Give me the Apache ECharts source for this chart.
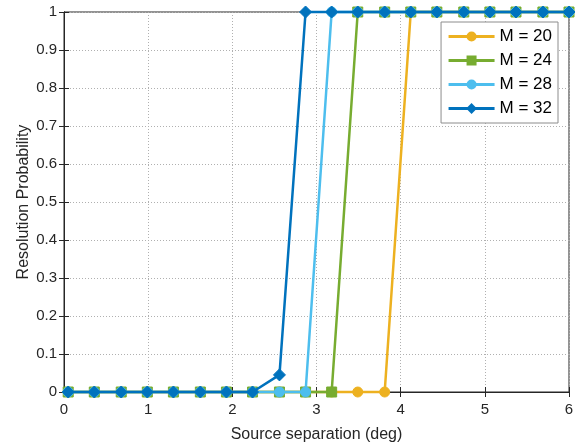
<!DOCTYPE html>
<html><head><meta charset="utf-8">
<script src="https://cdn.jsdelivr.net/npm/echarts@6/dist/echarts.min.js"></script>
<style>html,body{margin:0;padding:0;background:#fff}#c{width:585px;height:447px}</style>
</head><body><div id="c"></div>
<script>
var separation = [0.05, 0.36, 0.68, 0.99, 1.30, 1.62, 1.93, 2.24, 2.56, 2.87, 3.18, 3.49, 3.81, 4.12, 4.43, 4.75, 5.06, 5.37, 5.69, 6.00];
var probM20 = [0,0,0,0,0,0,0,0,0,0,0,0,0,1,1,1,1,1,1,1];
var probM24 = [0,0,0,0,0,0,0,0,0,0,0,1,1,1,1,1,1,1,1,1];
var probM28 = [0,0,0,0,0,0,0,0,0,0,1,1,1,1,1,1,1,1,1,1];
var probM32 = [0,0,0,0,0,0,0,0,0.045,1,1,1,1,1,1,1,1,1,1,1];
var seriesNames = ['M = 20','M = 24','M = 28','M = 32'];
var colors = ['#EDB120','#77AC30','#4DBEEE','#0072BD'];
var symbols = ['circle','rect','circle','diamond'];
var symbolSizes = [10,10,10,12];
var allProb = [probM20, probM24, probM28, probM32];

function pairs(ys){ return separation.map(function(x,i){ return [x, ys[i]]; }); }

var font = 'Liberation Sans, Arial, Helvetica, sans-serif';
var axisColor = '#262626';
var chart = echarts.init(document.getElementById('c'), null, {renderer:'canvas'});
var gridLine = {show:true, lineStyle:{color:'#b0b0b0', type:[1,2], width:1}};
chart.setOption({
  animation:false,
  grid:{left:64, right:16, top:12, bottom:55, show:true, borderColor:axisColor, borderWidth:1,
        containLabel:false, outerBoundsMode:'none'},
  legend:{
    right:27, top:22, orient:'vertical', backgroundColor:'#fff', borderColor:'#8c8c8c', borderWidth:1,
    padding:[6,6,6,6], itemGap:7, itemWidth:46, itemHeight:10,
    textStyle:{fontFamily:font, fontSize:17, color:'#000'},
    lineStyle:{width:3},
    data: seriesNames
  },
  xAxis:[{
    type:'value', min:0, max:6, interval:1,
    name:'Source separation (deg)', nameLocation:'middle', nameGap:35,
    nameTextStyle:{fontFamily:font, fontSize:16, color:axisColor},
    axisLine:{show:true, onZero:false, lineStyle:{color:axisColor}},
    axisTick:{show:true, inside:true, length:5, lineStyle:{color:axisColor}},
    axisLabel:{fontFamily:font, fontSize:15, color:axisColor, margin:10},
    splitLine:gridLine
  },{
    type:'value', position:'top', min:0, max:6, interval:1,
    axisLine:{show:true, lineStyle:{color:axisColor}},
    axisTick:{show:true, inside:true, length:5, lineStyle:{color:axisColor}},
    axisLabel:{show:false}, splitLine:{show:false}
  }],
  yAxis:[{
    type:'value', min:0, max:1, interval:0.1,
    name:'Resolution Probability', nameLocation:'middle', nameGap:32, nameMoveOverlap:false,
    nameTextStyle:{fontFamily:font, fontSize:16, color:axisColor},
    axisLine:{show:true, onZero:false, lineStyle:{color:axisColor}},
    axisTick:{show:true, inside:true, length:5, lineStyle:{color:axisColor}},
    axisLabel:{fontFamily:font, fontSize:15, color:axisColor, margin:7,
      formatter:function(v){ return String(Math.round(v*10)/10); }},
    splitLine:gridLine
  },{
    type:'value', position:'right', min:0, max:1, interval:0.1,
    axisLine:{show:true, lineStyle:{color:axisColor}},
    axisTick:{show:true, inside:true, length:5, lineStyle:{color:axisColor}},
    axisLabel:{show:false}, splitLine:{show:false}
  }],
  series: allProb.map(function(p,k){
    return {
      name:seriesNames[k], type:'line', data:pairs(p),
      symbol:symbols[k], symbolSize:symbolSizes[k], showAllSymbol:true,
      lineStyle:{color:colors[k], width:2.5},
      itemStyle:{color:colors[k], borderColor:colors[k], borderWidth:1},
      z:2+k, clip:false
    };
  })
});
</script></body></html>
